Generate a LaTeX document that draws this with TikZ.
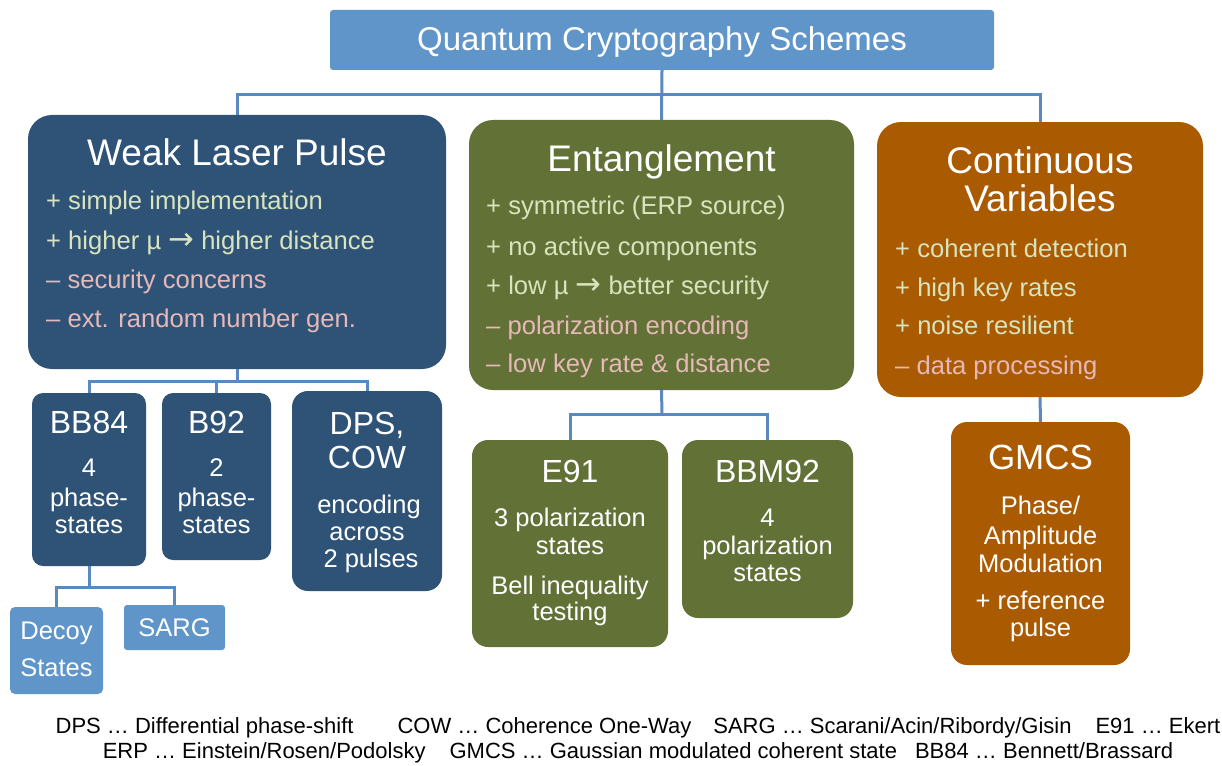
\documentclass[tikz,border=0pt]{standalone}
\usepackage{fontspec}
\setmainfont{Liberation Sans}
\newfontfamily\arrowfont{DejaVu Sans}
\definecolor{lightblue}{HTML}{5F95C8}
\definecolor{darkblue}{HTML}{2F5377}
\definecolor{olive}{HTML}{627237}
\definecolor{rust}{HTML}{AA5A00}
\definecolor{linkblue}{HTML}{5A89BF}
\definecolor{protext}{HTML}{D7E4BD}
\definecolor{contratext}{HTML}{E6B9B8}
\newcommand{\rarr}{\raisebox{-0.5pt}{\scalebox{1.2}{\arrowfont\char"2192}}}
\tikzset{
  panel/.style={draw=none, inner sep=0pt, rounded corners=24pt},
  leaf/.style={draw=none, inner sep=0pt, rounded corners=11pt},
  tag/.style={draw=none, inner sep=0pt, rounded corners=5pt, fill=lightblue},
  conn/.style={draw=linkblue, line width=3pt},
  head/.style={text=white, inner sep=0pt, font=\fontsize{37}{40}\selectfont},
  sub/.style={text=white, inner sep=0pt, font=\fontsize{32}{36}\selectfont},
  body/.style={text=white, inner sep=0pt, font=\fontsize{25.5}{30}\selectfont},
  pro/.style={text=protext, inner sep=0pt, anchor=base west, font=\fontsize{25.6}{30}\selectfont},
  contra/.style={text=contratext, inner sep=0pt, anchor=base west, font=\fontsize{25.6}{30}\selectfont},
  note/.style={text=black, inner sep=0pt, anchor=base, font=\fontsize{22}{25}\selectfont},
}
\begin{document}
\begin{tikzpicture}[x=1pt,y=-1pt]
\useasboundingbox (0,0) rectangle (1222,765);

% ---- boxes ----
\node[draw=none, inner sep=0pt, rounded corners=3pt, fill=lightblue, minimum width=664pt, minimum height=60pt] (title) at (662,40) {};
\node[panel, fill=darkblue, minimum width=418pt, minimum height=254pt] (wlp) at (237,242) {};
\node[panel, fill=olive, minimum width=385pt, minimum height=270pt] (ent) at (661.5,255) {};
\node[panel, fill=rust, minimum width=326pt, minimum height=275pt] (cv) at (1040,259.5) {};

\node[leaf, fill=darkblue, minimum width=114pt, minimum height=173pt] (bb84) at (89,479.5) {};
\node[leaf, fill=darkblue, minimum width=109pt, minimum height=167pt] (b92) at (216.5,476.5) {};
\node[leaf, fill=darkblue, rounded corners=16pt, minimum width=150pt, minimum height=200pt] (dps) at (367,491) {};
\node[tag, minimum width=93pt, minimum height=87pt] (decoy) at (56.5,650.5) {};
\node[tag, rounded corners=3pt, minimum width=101pt, minimum height=45pt] (sarg) at (174.5,627.5) {};

\node[leaf, fill=olive, rounded corners=16pt, minimum width=196pt, minimum height=207pt] (e91) at (570,543.5) {};
\node[leaf, fill=olive, rounded corners=16pt, minimum width=171pt, minimum height=178pt] (bbm92) at (767.5,529) {};

\node[leaf, fill=rust, rounded corners=16pt, minimum width=179pt, minimum height=243pt] (gmcs) at (1040.5,543.5) {};

% ---- connectors ----
\coordinate (busA) at (662,95);
\coordinate (busB) at (237,381);
\coordinate (busC) at (89,587);
\coordinate (busD) at (662,414);

\draw[conn] (title.south) -- (ent.north);
\draw[conn] (wlp.north) -- (wlp.north |- busA) -- (cv.north |- busA) -- (cv.north);

\draw[conn] (wlp.south) -- (busB);
\draw[conn] (bb84.north) -- (bb84.north |- busB) -- (dps.north |- busB) -- (dps.north);
\draw[conn] (b92.north) -- (b92.north |- busB);

\draw[conn] (bb84.south) -- (busC);
\draw[conn] (decoy.north) -- (decoy.north |- busC) -- (sarg.north |- busC) -- (sarg.north);

\draw[conn] (ent.south) -- (busD);
\draw[conn] (e91.north) -- (e91.north |- busD) -- (bbm92.north |- busD) -- (bbm92.north);

\draw[conn] (cv.south) -- (gmcs.north);

% ---- headline ----
\node[text=white, inner sep=0pt, anchor=base, font=\fontsize{33}{36}\selectfont] (titletext) at (662,51) {Quantum Cryptography Schemes};

% ---- weak laser pulse ----
\node[head, anchor=base] (wlphead) at (237,165) {Weak Laser Pulse};
\node[pro] (wlp1) at (46,209) {+ simple implementation};
\node[pro] (wlp2) at (46,249) {+ higher µ \rarr\ higher distance};
\node[contra] (wlp3) at (46,288) {– security concerns};
\node[contra] (wlp4) at (46,327) {– ext. random number gen.};

% ---- entanglement ----
\node[head, anchor=base] (enthead) at (661.5,171) {Entanglement};
\node[pro] (ent1) at (486,214) {+ symmetric (ERP source)};
\node[pro] (ent2) at (486,255) {+ no active components};
\node[pro] (ent3) at (486,294) {+ low µ \rarr\ better security};
\node[contra] (ent4) at (486,334) {– polarization encoding};
\node[contra] (ent5) at (486,372) {– low key rate \& distance};

% ---- continuous variables ----
\node[head, anchor=base] (cvhead1) at (1040,173) {Continuous};
\node[head, anchor=base] (cvhead2) at (1040,211) {Variables};
\node[pro] (cv1) at (895,257) {+ coherent detection};
\node[pro] (cv2) at (895,296) {+ high key rates};
\node[pro] (cv3) at (895,334) {+ noise resilient};
\node[contra] (cv4) at (895,374) {– data processing};

% ---- weak laser pulse protocols ----
\node[sub, anchor=base] (bb84a) at (89,433) {BB84};
\node[body, anchor=base] (bb84b) at (89,476) {4};
\node[body, anchor=base] (bb84c) at (89,506) {phase-};
\node[body, anchor=base] (bb84d) at (89,533) {states};

\node[sub, anchor=base] (b92a) at (216.5,433) {B92};
\node[body, anchor=base] (b92b) at (216.5,476) {2};
\node[body, anchor=base] (b92c) at (216.5,506) {phase-};
\node[body, anchor=base] (b92d) at (216.5,533) {states};

\node[sub, anchor=base] (dpsa) at (367,434) {DPS,};
\node[sub, anchor=base] (dpsb) at (367,468) {COW};
\node[body, anchor=base] (dpsc) at (369,513) {encoding};
\node[body, anchor=base] (dpsd) at (367,540) {across};
\node[body, anchor=base] (dpse) at (371,567) {2 pulses};

\node[body, anchor=base] (decoya) at (56.5,639) {Decoy};
\node[body, anchor=base] (decoyb) at (56.5,676) {States};
\node[body, anchor=base] (sarga) at (174.5,636) {SARG};

% ---- entanglement protocols ----
\node[sub, anchor=base] (e91a) at (570,482) {E91};
\node[body, anchor=base] (e91b) at (570,526) {3 polarization};
\node[body, anchor=base] (e91c) at (570,554) {states};
\node[body, anchor=base] (e91d) at (570,594) {Bell inequality};
\node[body, anchor=base] (e91e) at (570,620) {testing};

\node[sub, anchor=base] (bbm92a) at (767.5,482) {BBM92};
\node[body, anchor=base] (bbm92b) at (767.5,526) {4};
\node[body, anchor=base] (bbm92c) at (767.5,554) {polarization};
\node[body, anchor=base] (bbm92d) at (767.5,581) {states};

% ---- continuous variable protocol ----
\node[sub, anchor=base, font=\fontsize{35}{38}\selectfont] (gmcsa) at (1040.5,469) {GMCS};
\node[body, anchor=base] (gmcsb) at (1040.5,514) {Phase/};
\node[body, anchor=base] (gmcsc) at (1040.5,544) {Amplitude};
\node[body, anchor=base] (gmcsd) at (1040.5,572) {Modulation};
\node[body, anchor=base] (gmcse) at (1040.5,609) {+ reference};
\node[body, anchor=base] (gmcsf) at (1040.5,636) {pulse};

% ---- abbreviations ----
\node[note] (abbr1) at (638,733) {DPS … Differential phase-shift\hspace{44pt}COW … Coherence One-Way\hspace{22pt}SARG … Scarani/Acin/Ribordy/Gisin\hspace{24pt}E91 … Ekert};
\node[note] (abbr2) at (638,758) {ERP … Einstein/Rosen/Podolsky\hspace{24pt}GMCS … Gaussian modulated coherent state\hspace{18pt}BB84 … Bennett/Brassard};
\end{tikzpicture}
\end{document}
